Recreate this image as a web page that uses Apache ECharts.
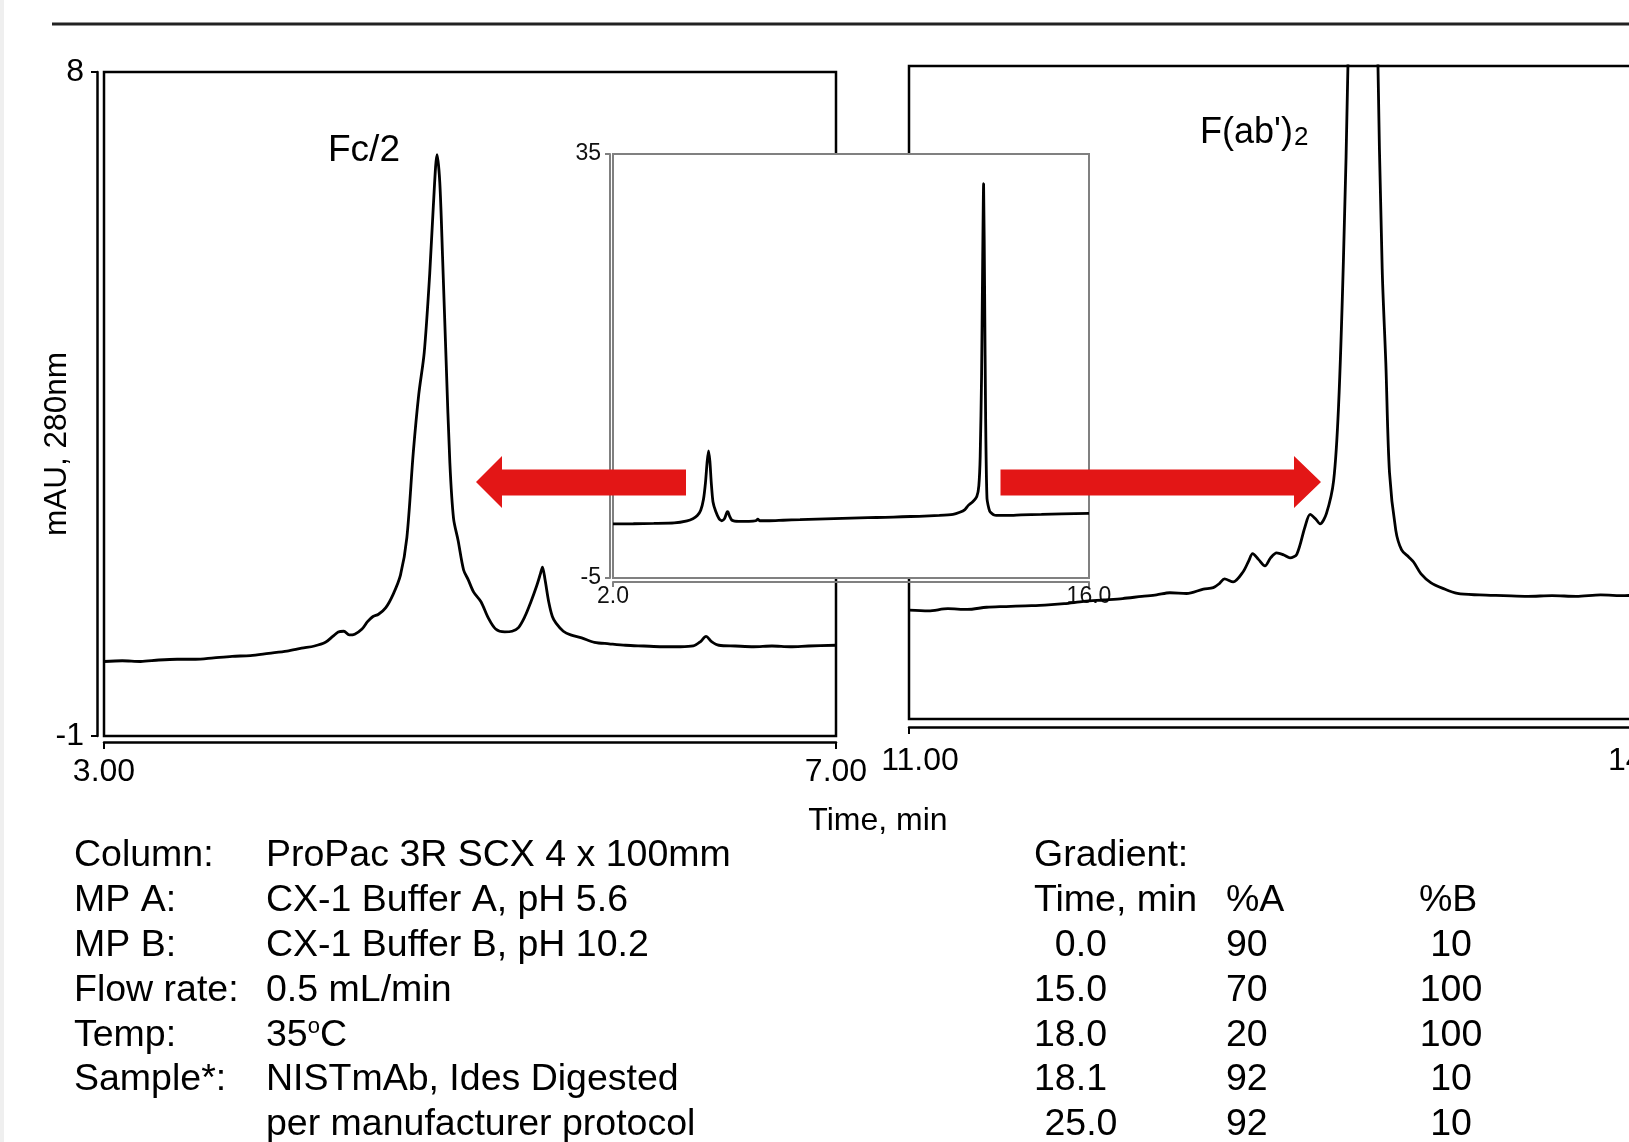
<!DOCTYPE html>
<html>
<head>
<meta charset="utf-8">
<script src="https://cdn.jsdelivr.net/npm/echarts@6/dist/echarts.min.js"></script>
<style>
  html, body { margin: 0; padding: 0; background: #fff; }
  #main { width: 1629px; height: 1142px; }
</style>
</head>
<body>
<div id="main"></div>
<script>
// Fc/2 zoom (3 - 7 min)
var leftTime = [3.00, 3.10, 3.20, 3.30, 3.40, 3.50, 3.60, 3.70, 3.80, 3.90, 4.00, 4.08, 4.15, 4.21, 4.25, 4.28, 4.31, 4.34, 4.37, 4.41, 4.44, 4.47, 4.50, 4.54, 4.58, 4.62, 4.655, 4.69, 4.72, 4.75, 4.78, 4.80, 4.82, 4.835, 4.85, 4.87, 4.89, 4.91, 4.935, 4.965, 4.99, 5.02, 5.06, 5.10, 5.14, 5.19, 5.23, 5.265, 5.30, 5.33, 5.365, 5.385, 5.396, 5.41, 5.43, 5.45, 5.47, 5.51, 5.55, 5.61, 5.68, 5.76, 5.85, 5.95, 6.05, 6.15, 6.22, 6.26, 6.29, 6.32, 6.36, 6.45, 6.55, 6.65, 6.75, 6.85, 7.00];
var leftVal = [0.01, 0.02, 0.01, 0.03, 0.04, 0.04, 0.06, 0.08, 0.09, 0.12, 0.15, 0.19, 0.22, 0.27, 0.35, 0.41, 0.42, 0.37, 0.38, 0.45, 0.55, 0.62, 0.65, 0.74, 0.92, 1.18, 1.69, 2.84, 3.63, 4.20, 5.27, 6.20, 6.88, 6.50, 5.50, 4.05, 2.70, 1.95, 1.65, 1.25, 1.12, 0.95, 0.82, 0.60, 0.45, 0.41, 0.42, 0.47, 0.62, 0.80, 1.04, 1.20, 1.29, 1.12, 0.82, 0.62, 0.53, 0.42, 0.37, 0.33, 0.27, 0.25, 0.23, 0.22, 0.21, 0.21, 0.22, 0.28, 0.35, 0.28, 0.23, 0.22, 0.21, 0.22, 0.21, 0.22, 0.23];

// F(ab')2 zoom (11 - 14 min)
var rightTime = [11.00, 11.08, 11.16, 11.24, 11.32, 11.40, 11.48, 11.56, 11.64, 11.72, 11.80, 11.88, 11.96, 12.02, 12.075, 12.144, 12.213, 12.254, 12.28, 12.30, 12.336, 12.377, 12.40, 12.416, 12.44, 12.467, 12.49, 12.515, 12.545, 12.57, 12.598, 12.632, 12.653, 12.675, 12.694, 12.72, 12.75, 12.77, 12.79, 12.81, 12.84, 12.87, 12.90, 12.93, 12.95, 12.965, 12.98, 13.006, 13.03, 13.06, 13.08, 13.11, 13.15, 13.20, 13.26, 13.35, 13.45, 13.55, 13.65, 13.75, 13.85, 13.95, 14.00];
var rightVal = [0.50, 0.49, 0.52, 0.51, 0.54, 0.55, 0.56, 0.57, 0.59, 0.62, 0.64, 0.66, 0.69, 0.71, 0.74, 0.73, 0.79, 0.81, 0.87, 0.93, 0.89, 1.03, 1.18, 1.28, 1.20, 1.11, 1.22, 1.29, 1.26, 1.22, 1.27, 1.65, 1.82, 1.76, 1.69, 1.83, 2.29, 3.30, 5.30, 8.20, 16.0, 30.0, 18.0, 8.5, 5.2, 3.9, 2.4, 1.60, 1.33, 1.23, 1.16, 1.00, 0.88, 0.80, 0.73, 0.71, 0.70, 0.69, 0.70, 0.69, 0.71, 0.70, 0.71];

// full run inset (2 - 16 min)
var insetTime = [2.0, 2.6, 3.2, 3.8, 4.18, 4.35, 4.48, 4.58, 4.66, 4.72, 4.77, 4.81, 4.85, 4.89, 4.94, 5.02, 5.12, 5.20, 5.28, 5.35, 5.38, 5.42, 5.50, 5.70, 6.00, 6.20, 6.26, 6.32, 6.60, 7.00, 7.50, 8.00, 8.50, 9.00, 9.50, 10.0, 10.5, 11.0, 11.6, 12.0, 12.2, 12.35, 12.45, 12.58, 12.70, 12.76, 12.80, 12.84, 12.87, 12.90, 12.93, 12.96, 13.00, 13.08, 13.21, 13.40, 13.62, 14.0, 14.6, 15.2, 16.0];
var insetVal = [0.1, 0.12, 0.15, 0.2, 0.4, 0.6, 0.9, 1.4, 2.4, 4.0, 6.0, 7.0, 6.0, 4.0, 2.2, 1.3, 0.6, 0.4, 0.6, 1.2, 1.25, 0.9, 0.45, 0.35, 0.35, 0.4, 0.55, 0.4, 0.4, 0.45, 0.5, 0.55, 0.6, 0.65, 0.7, 0.72, 0.78, 0.82, 0.9, 1.0, 1.2, 1.45, 1.85, 2.2, 2.7, 3.7, 6.5, 14, 24, 32.2, 22, 10, 2.5, 1.3, 0.95, 0.9, 0.9, 0.95, 1.0, 1.05, 1.1];

// tick labels
var leftXTicks = [3, 7];
var leftYTicks = [-1, 8];
var rightXTicks = [11, 14];
var insetXTicks = [2, 16];
var insetYTicks = [-5, 35];

// method table
var paramLabels = ['Column:', 'MP A:', 'MP B:', 'Flow rate:', 'Temp:', 'Sample*:', ''];
var paramValues = ['ProPac 3R SCX 4 x 100mm', 'CX-1 Buffer A, pH 5.6', 'CX-1 Buffer B, pH 10.2', '0.5 mL/min', '35{sup|o}C', 'NISTmAb, Ides Digested', 'per manufacturer protocol'];
var gradTime = ['  0.0', '15.0', '18.0', '18.1', ' 25.0'];
var gradA = [90, 70, 20, 92, 92];
var gradB = [10, 100, 100, 10, 10];

var FONT = 'Liberation Sans, Arial, sans-serif';
var TBL = 37.5;
var TICK = 32;

function pairs(xs, ys) {
  return xs.map(function (x, i) { return [x, ys[i]]; });
}

function txt(x, y, text, size, align, extra) {
  var el = {
    type: 'text', x: x, y: y, z: 10,
    style: {
      text: text, fontSize: size, fontFamily: FONT, fill: '#000',
      textAlign: align || 'left', align: align || 'left',
      textVerticalAlign: 'middle', verticalAlign: 'middle'
    }
  };
  if (extra) { el.style.rich = extra; }
  return el;
}

var chart = echarts.init(document.getElementById('main'), null, { renderer: 'canvas' });

var graphics = [];
// page edge + top rule
graphics.push({ type: 'rect', shape: { x: 0, y: 0, width: 4, height: 1142 }, style: { fill: '#efefef' }, z: 10 });
graphics.push({ type: 'line', shape: { x1: 52, y1: 24, x2: 1629, y2: 24 }, style: { stroke: '#222', lineWidth: 3 }, z: 10 });

// red arrows
graphics.push({ type: 'polygon', z: 10, shape: { points: [[476, 482], [502, 456], [502, 469.6], [686, 469.6], [686, 495.6], [502, 495.6], [502, 508]] }, style: { fill: '#e31616' } });
graphics.push({ type: 'polygon', z: 10, shape: { points: [[1321, 482], [1294, 456], [1294, 469.6], [1000.5, 469.6], [1000.5, 495.6], [1294, 495.6], [1294, 508]] }, style: { fill: '#e31616' } });

// peak labels, axis titles
graphics.push(txt(364, 151, 'Fc/2', 37, 'center'));
graphics.push(txt(1200, 133, '{a|F(ab\')}{s|2}', 36, 'left', {
  a: { fontSize: 36, fontFamily: FONT, fill: '#000', color: '#000' },
  s: { fontSize: 26, fontFamily: FONT, fill: '#000', color: '#000', verticalAlign: 'bottom', padding: [0, 0, 0, 1] }
}));
graphics.push(txt(878, 821, 'Time, min', 32, 'center'));
var yName = txt(57, 444, 'mAU, 280nm', 31.5, 'center');
yName.rotation = Math.PI / 2;
graphics.push(yName);

// method table
var rowY0 = 856, rowStep = 44.8;
paramLabels.forEach(function (s, i) {
  if (s) graphics.push(txt(74, rowY0 + i * rowStep, s, TBL, 'left'));
});
paramValues.forEach(function (s, i) {
  graphics.push(txt(266, rowY0 + i * rowStep, s, TBL, 'left', {
    sup: { fontSize: 22, fontFamily: FONT, fill: '#000', color: '#000', verticalAlign: 'top' }
  }));
});
graphics.push(txt(1034, rowY0, 'Gradient:', TBL, 'left'));
graphics.push(txt(1034, rowY0 + rowStep, 'Time, min', TBL, 'left'));
graphics.push(txt(1226, rowY0 + rowStep, '%A', TBL, 'left'));
graphics.push(txt(1419, rowY0 + rowStep, '%B', TBL, 'left'));
gradTime.forEach(function (s, i) {
  var y = rowY0 + (i + 2) * rowStep;
  graphics.push(txt(1034, y, s, TBL, 'left'));
  graphics.push(txt(1226, y, String(gradA[i]), TBL, 'left'));
  graphics.push(txt(1451, y, String(gradB[i]), TBL, 'center'));
});

var blackAxis = { onZero: false, lineStyle: { color: '#000', width: 2.5 } };

var option = {
  animation: false,
  backgroundColor: '#fff',
  grid: [
    { left: 104, top: 72, width: 732, height: 664, show: true, borderColor: '#000', borderWidth: 2.5, z: 0, outerBoundsMode: 'none', containLabel: false },
    { left: 909, top: 66, width: 728, height: 653, show: true, borderColor: '#000', borderWidth: 2.5, z: 0, outerBoundsMode: 'none', containLabel: false },
    { left: 613, top: 154, width: 476, height: 424, show: true, borderColor: '#808080', borderWidth: 2, backgroundColor: '#fff', z: 3, outerBoundsMode: 'none', containLabel: false }
  ],
  xAxis: [
    {
      gridIndex: 0, type: 'value', min: 3, max: 7, offset: 6, z: 1,
      axisLine: blackAxis,
      axisTick: { customValues: leftXTicks, length: 7, lineStyle: { color: '#000', width: 2 } },
      axisLabel: { customValues: leftXTicks, formatter: function (v) { return v.toFixed(2); }, fontSize: TICK, fontFamily: FONT, color: '#000', margin: 14 },
      splitLine: { show: false }
    },
    {
      gridIndex: 1, type: 'value', min: 11, max: 14, offset: 8, z: 1,
      axisLine: blackAxis,
      axisTick: { customValues: rightXTicks, length: 7, lineStyle: { color: '#000', width: 2 } },
      axisLabel: { customValues: rightXTicks, formatter: function (v) { return v.toFixed(2); }, fontSize: TICK, fontFamily: FONT, color: '#000', margin: 18, padding: [0, 0, 0, 22] },
      splitLine: { show: false }
    },
    {
      gridIndex: 2, type: 'value', min: 2, max: 16, offset: 4, z: 4,
      axisLine: { onZero: false, lineStyle: { color: '#808080', width: 2 } },
      axisTick: { customValues: insetXTicks, length: 5, lineStyle: { color: '#808080', width: 2 } },
      axisLabel: { customValues: insetXTicks, formatter: function (v) { return v.toFixed(1); }, fontSize: 23, fontFamily: FONT, color: '#111', margin: 3 },
      splitLine: { show: false }
    }
  ],
  yAxis: [
    {
      gridIndex: 0, type: 'value', min: -1, max: 8, offset: 7, z: 1,
      axisLine: { show: true, onZero: false, lineStyle: { color: '#000', width: 2.5 } },
      axisTick: { show: true, customValues: leftYTicks, length: 6, lineStyle: { color: '#000', width: 2 } },
      axisLabel: { customValues: leftYTicks, fontSize: TICK, fontFamily: FONT, color: '#000', margin: 13 },
      splitLine: { show: false }
    },
    { gridIndex: 1, type: 'value', min: -1, max: 8, show: false, axisLine: { onZero: false }, splitLine: { show: false } },
    {
      gridIndex: 2, type: 'value', min: -5, max: 35, offset: 3, z: 4,
      axisLine: { show: true, onZero: false, lineStyle: { color: '#808080', width: 2 } },
      axisTick: { show: true, customValues: insetYTicks, length: 5, lineStyle: { color: '#808080', width: 2 } },
      axisLabel: { customValues: insetYTicks, fontSize: 23, fontFamily: FONT, color: '#111', margin: 9 },
      splitLine: { show: false }
    }
  ],
  series: [
    {
      type: 'line', xAxisIndex: 0, yAxisIndex: 0, z: 2, data: pairs(leftTime, leftVal),
      showSymbol: false, smooth: 0.3, lineStyle: { color: '#000', width: 2.8 }
    },
    {
      type: 'line', xAxisIndex: 1, yAxisIndex: 1, z: 6, data: pairs(rightTime, rightVal),
      showSymbol: false, smooth: 0.3, lineStyle: { color: '#000', width: 2.8 }
    },
    {
      type: 'line', xAxisIndex: 2, yAxisIndex: 2, z: 5, data: pairs(insetTime, insetVal),
      showSymbol: false, smooth: 0.2, lineStyle: { color: '#000', width: 2.8 }
    }
  ],
  graphic: graphics
};

chart.setOption(option);
</script>
</body>
</html>
